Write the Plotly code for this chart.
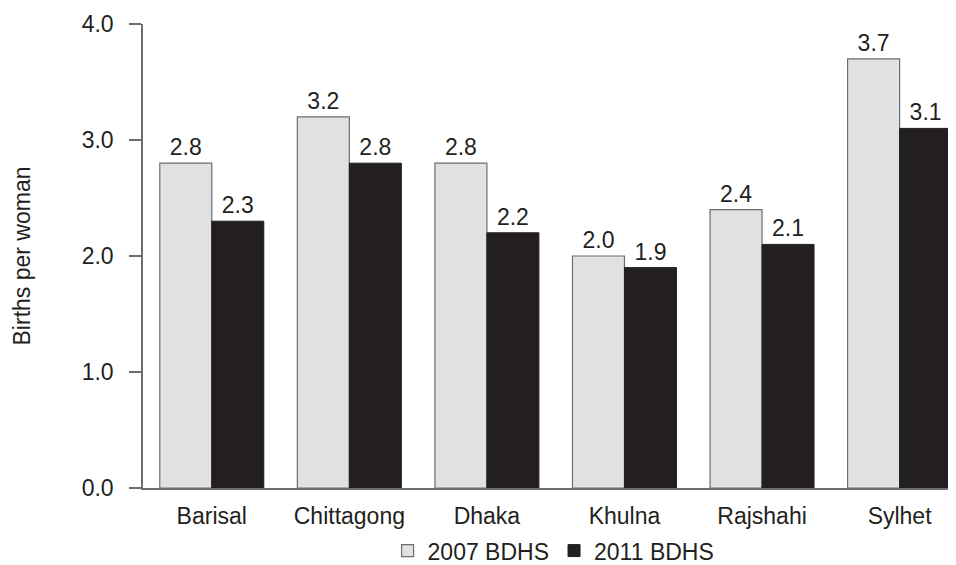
import plotly.graph_objects as go

regions = ["Barisal", "Chittagong", "Dhaka", "Khulna", "Rajshahi", "Sylhet"]
tfr_2007 = [2.8, 3.2, 2.8, 2.0, 2.4, 3.7]
tfr_2011 = [2.3, 2.8, 2.2, 1.9, 2.1, 3.1]

txt = "#231f20"
fnt = dict(family="Liberation Sans, Arial, sans-serif", size=23, color=txt)

fig = go.Figure()
fig.add_trace(go.Bar(
    x=regions, y=tfr_2007, name="2007 BDHS",
    marker=dict(color="#e0e1e3", line=dict(color="#6d6d6d", width=1.2)),
    texttemplate="%{y:.1f}", textposition="outside", cliponaxis=False,
    textfont=fnt,
))
fig.add_trace(go.Bar(
    x=regions, y=tfr_2011, name="2011 BDHS",
    marker=dict(color="#231f20", line=dict(color="#231f20", width=1)),
    texttemplate="%{y:.1f}", textposition="outside", cliponaxis=False,
    textfont=fnt,
))

# page body has an 8px margin, so the figure is 8px smaller each way
fig.update_layout(
    width=948, height=557,
    margin=dict(l=135, r=0, t=16, b=77, autoexpand=False),
    paper_bgcolor="white", plot_bgcolor="white",
    font=fnt,
    barmode="group", bargap=0.244, bargroupgap=0,
    showlegend=True,
    legend=dict(orientation="h", x=0.505, xanchor="center", y=-0.135, yanchor="middle",
                font=fnt, itemwidth=30, tracegroupgap=0),
)
fig.update_xaxes(
    range=[-0.5, 5.41], showline=True, linecolor="#6d6d6d", linewidth=1.5,
    ticks="", showgrid=False, tickfont=fnt, ticklabelstandoff=7, automargin=False,
)
fig.update_yaxes(
    range=[0, 4], dtick=1, tickformat=".1f", showline=True, linecolor="#6d6d6d",
    linewidth=1.5, ticks="outside", ticklen=12, tickcolor="#6d6d6d", tickwidth=1.5,
    showgrid=False, zeroline=False, tickfont=fnt, ticklabelstandoff=11, automargin=False,
    title=dict(text="Births per woman", font=fnt, standoff=45),
)

fig.write_html("out.html")
